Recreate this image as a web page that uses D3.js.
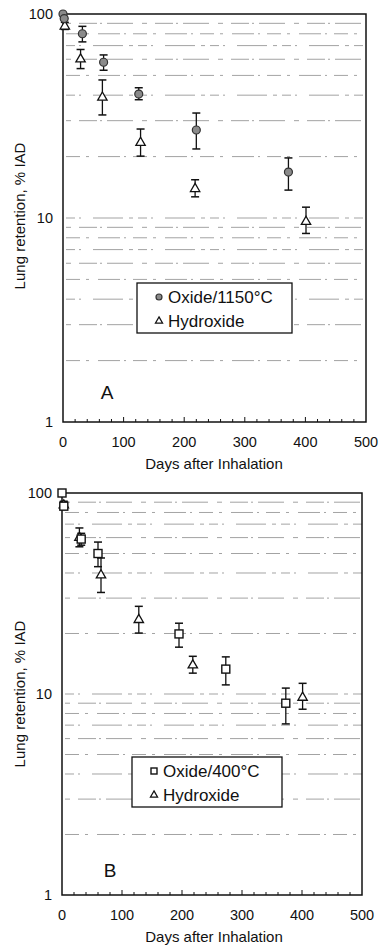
<!DOCTYPE html>
<html>
<head>
<meta charset="utf-8">
<script src="https://cdn.jsdelivr.net/npm/d3@7"></script>
<style>
  body { margin: 0; background: #fff; }
  svg text { font-family: "Liberation Sans", Arial, sans-serif; fill: #111; }
</style>
</head>
<body>
<div id="chart"></div>
<script>
// hydroxide series (same in both panels)
const hydDays = [3, 29, 65, 128, 218, 401];
const hydVal = [87, 60, 39, 23.4, 13.9, 9.6];
const hydLo = [84, 54, 32, 20.1, 12.7, 8.4];
const hydHi = [91, 67, 47.5, 27.3, 15.4, 11.3];

// oxide calcined at 1150 C (panel A)
const ox1150Days = [0, 2, 32, 67, 125, 220, 372];
const ox1150Val = [100, 95, 80, 58, 40.5, 27, 16.8];
const ox1150Lo = [100, 95, 73, 53, 38, 21.8, 13.7];
const ox1150Hi = [100, 95, 87, 63, 43.5, 32.7, 19.7];

// oxide calcined at 400 C (panel B)
const ox400Days = [0, 3, 32, 60, 195, 273, 373];
const ox400Val = [100, 86, 59, 50, 19.9, 13.3, 9.0];
const ox400Lo = [100, 84, 55, 43, 17.1, 11.1, 7.1];
const ox400Hi = [100, 89, 63, 57, 22.5, 15.3, 10.7];

const xTicks = [0, 100, 200, 300, 400, 500];
const yTicks = [1, 10, 100];
const gridVals = [2, 3, 4, 5, 6, 7, 8, 9, 10, 20, 30, 40, 50, 60, 70, 80, 90];

const svg = d3.select("#chart").append("svg")
  .attr("width", 380).attr("height", 951);

function rows(days, val, lo, hi) {
  return days.map((d, i) => ({ d: d, v: val[i], lo: lo[i], hi: hi[i] }));
}

function drawPanel(p) {
  const x = d3.scaleLinear().domain([0, 500]).range([p.left, p.right]);
  const y = d3.scaleLog().domain([1, 100]).range([p.bottom, p.top]);
  const g = svg.append("g");

  // broken dashed grid lines (scanned look)
  const dashes = ["14,6,3,9,22,4,2,7", "5,8,18,3,2,5,26,9", "9,4,2,12,30,6,4,5"];
  g.selectAll(".grid").data(gridVals).join("line")
    .attr("x1", p.left + 3).attr("x2", p.right)
    .attr("y1", d => y(d)).attr("y2", d => y(d))
    .attr("stroke", "#444").attr("stroke-width", 0.7)
    .attr("stroke-opacity", 0.7)
    .attr("stroke-dasharray", (d, i) => dashes[i % 3]);

  // x minor ticks (every 20 days), pointing inward
  g.selectAll(".xt").data(d3.range(20, 500, 20)).join("line")
    .attr("x1", d => x(d)).attr("x2", d => x(d))
    .attr("y1", p.bottom).attr("y2", d => p.bottom - (d % 100 ? 3 : 5))
    .attr("stroke", "#111").attr("stroke-width", 1);

  // frame
  g.append("rect")
    .attr("x", p.left).attr("y", p.top)
    .attr("width", p.right - p.left).attr("height", p.bottom - p.top)
    .attr("fill", "none").attr("stroke", "#111").attr("stroke-width", 1.5);

  g.selectAll(".xl").data(xTicks).join("text")
    .attr("x", d => x(d)).attr("y", p.bottom + 25)
    .attr("text-anchor", "middle").attr("font-size", 14.5)
    .text(d => d);

  g.selectAll(".yl").data(yTicks).join("text")
    .attr("x", p.left - 10).attr("y", d => y(d) + 5)
    .attr("text-anchor", "end").attr("font-size", 14.5)
    .text(d => d);

  g.append("text")
    .attr("x", 214).attr("y", p.bottom + 47)
    .attr("text-anchor", "middle").attr("font-size", 15)
    .text("Days after Inhalation");

  g.append("text")
    .attr("transform", `translate(25,${p.titleY}) rotate(-90)`)
    .attr("text-anchor", "middle").attr("font-size", 15)
    .text("Lung retention, % IAD");

  g.append("text")
    .attr("x", p.letterX).attr("y", p.letterY)
    .attr("text-anchor", "middle").attr("font-size", 19)
    .text(p.letter);

  // error bars + markers
  function series(data, shape) {
    const eb = data.filter(r => r.hi > r.lo);
    g.selectAll(null).data(eb).join("line")
      .attr("x1", r => x(r.d)).attr("x2", r => x(r.d))
      .attr("y1", r => y(r.lo)).attr("y2", r => y(r.hi))
      .attr("stroke", "#111").attr("stroke-width", 1.3);
    ["lo", "hi"].forEach(k => {
      g.selectAll(null).data(eb).join("line")
        .attr("x1", r => x(r.d) - 4).attr("x2", r => x(r.d) + 4)
        .attr("y1", r => y(r[k])).attr("y2", r => y(r[k]))
        .attr("stroke", "#111").attr("stroke-width", 1.5);
    });
    drawMarkers(g, data.map(r => [x(r.d), y(r.v)]), shape);
  }

  series(rows(hydDays, hydVal, hydLo, hydHi), "triangle");
  series(p.oxide, p.shape);

  // legend
  const lg = g.append("g");
  lg.append("rect")
    .attr("x", p.legX).attr("y", p.legY)
    .attr("width", p.legW).attr("height", 50)
    .attr("fill", "#fff").attr("stroke", "#111").attr("stroke-width", 1.3);
  const entries = [[p.shape, p.oxLabel], ["triangle", "Hydroxide"]];
  entries.forEach((e, i) => {
    const cy = p.legY + 14 + i * 24;
    drawMarkers(lg, [[p.legX + 22, cy]], e[0], 0.75);
    lg.append("text")
      .attr("x", p.legX + 31).attr("y", cy + 6)
      .attr("font-size", 17)
      .text(e[1]);
  });
}

function drawMarkers(g, pts, shape, k) {
  k = k || 1;
  if (shape === "circle") {
    g.selectAll(null).data(pts).join("circle")
      .attr("cx", d => d[0]).attr("cy", d => d[1]).attr("r", 4 * k)
      .attr("fill", "#8a8a8a").attr("stroke", "#333").attr("stroke-width", 1.2);
  } else if (shape === "square") {
    const s = 8 * k;
    g.selectAll(null).data(pts).join("rect")
      .attr("x", d => d[0] - s / 2).attr("y", d => d[1] - s / 2)
      .attr("width", s).attr("height", s)
      .attr("fill", "#fff").attr("stroke", "#111").attr("stroke-width", 1.4);
  } else {
    const tri = d3.symbol().type(d3.symbolTriangle).size(38 * k * k);
    g.selectAll(null).data(pts).join("path")
      .attr("transform", d => `translate(${d[0]},${d[1]})`)
      .attr("d", tri)
      .attr("fill", "#fff").attr("stroke", "#111").attr("stroke-width", 1.3);
  }
}

drawPanel({
  left: 63, right: 366, top: 14, bottom: 422,
  oxide: rows(ox1150Days, ox1150Val, ox1150Lo, ox1150Hi),
  shape: "circle", oxLabel: "Oxide/1150\u00B0C",
  legX: 137, legY: 283, legW: 155,
  letter: "A", letterX: 107, letterY: 399, titleY: 216
});

drawPanel({
  left: 62, right: 362, top: 493, bottom: 895,
  oxide: rows(ox400Days, ox400Val, ox400Lo, ox400Hi),
  shape: "square", oxLabel: "Oxide/400\u00B0C",
  legX: 132, legY: 757, legW: 150,
  letter: "B", letterX: 110, letterY: 877, titleY: 694
});
</script>
</body>
</html>
